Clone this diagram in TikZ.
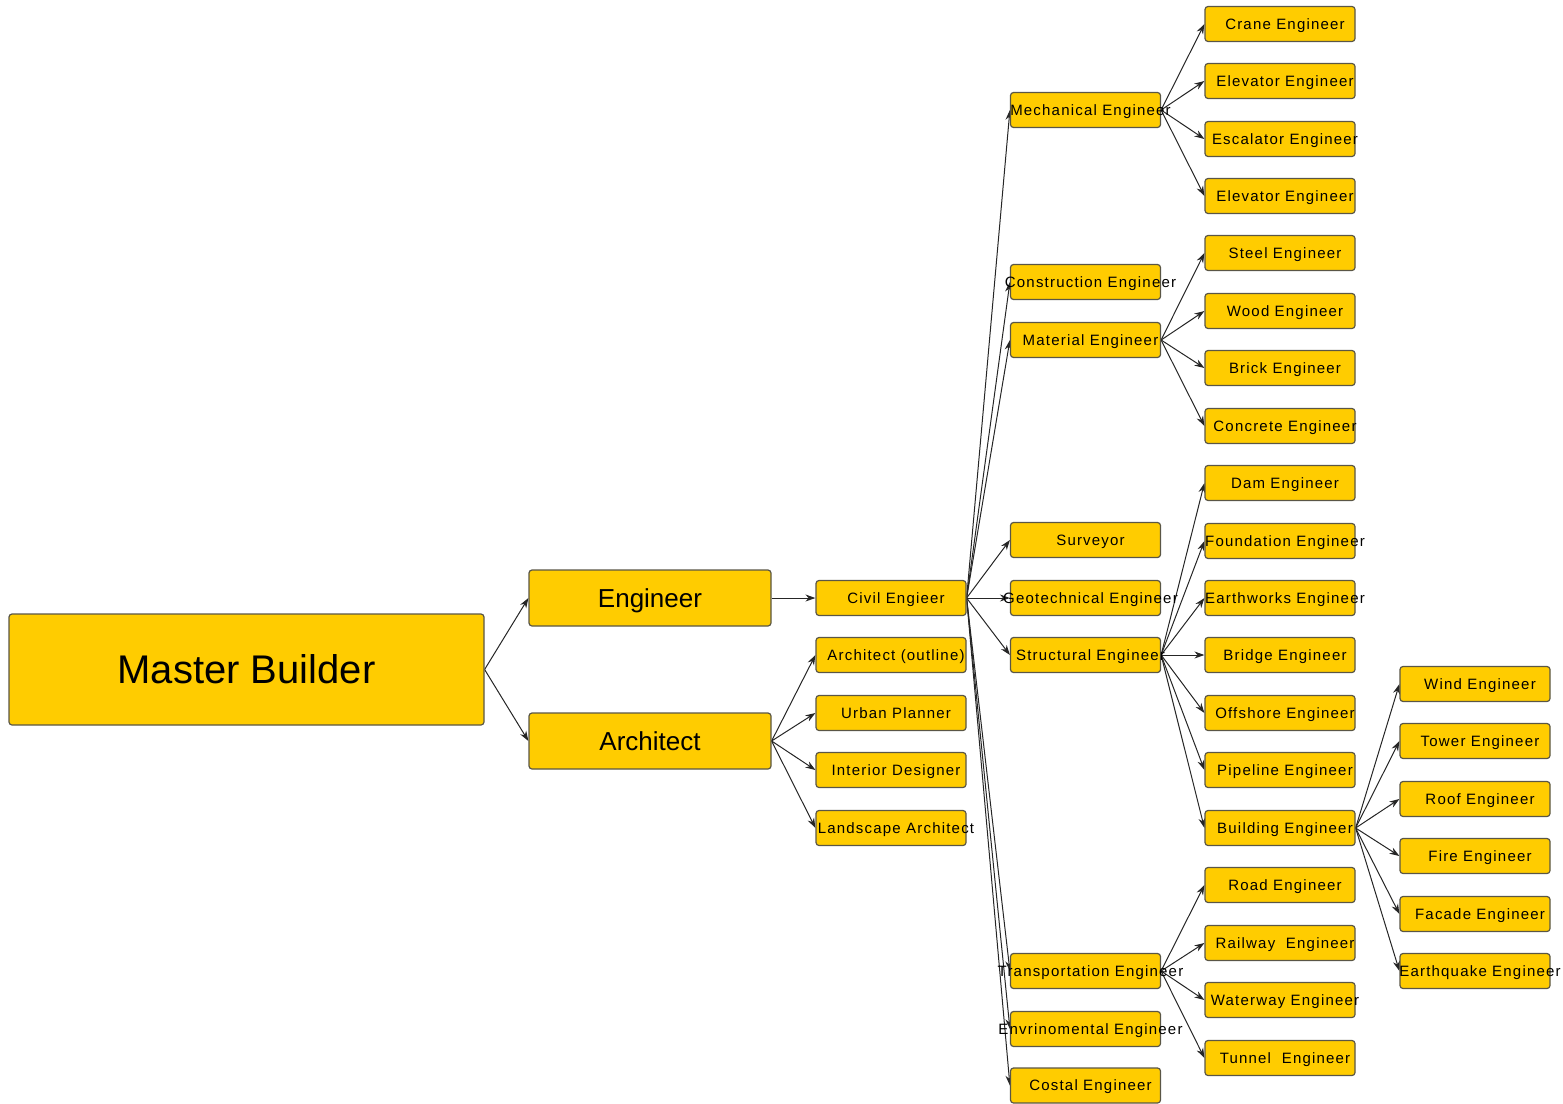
\documentclass[tikz,border=0pt]{standalone}
\usepackage{fontspec}
\setmainfont{Liberation Sans}
\newfontfamily\tracked[LetterSpace=8]{Liberation Sans}
\usetikzlibrary{arrows.meta}
\definecolor{gold}{HTML}{FFCC00}
\definecolor{boxline}{HTML}{5A5646}
\newcommand{\lbl}[1]{\makebox[0pt]{\hspace*{10pt}#1}}
\pgfdeclarelayer{edges}
\pgfsetlayers{edges,main}

\begin{document}
\begin{tikzpicture}[x=1pt,y=-1pt,
  box/.style={draw=boxline, fill=gold, rounded corners=3pt, line width=1.2pt, inner sep=0pt, text=black, text depth=0pt},
  small/.style={box, minimum width=150pt, minimum height=35pt, text height=10.8pt, font=\tracked\fontsize{15}{18}\selectfont},
  mid/.style={box, minimum width=242pt, minimum height=56pt, text height=18.6pt, font=\fontsize{26}{30}\selectfont},
  big/.style={box, minimum width=475pt, minimum height=111pt, text height=28.6pt, font=\fontsize{40}{46}\selectfont},
  arr/.style={draw=black!85, line width=1pt, -{Stealth[length=10pt,width=7pt]}},
]
\useasboundingbox (0,0) rectangle (1563,1103);

% root and first level
\node[big] (mb)  at (246.5,669.5) {Master Builder};
\node[mid] (eng) at (650,598) {Engineer};
\node[mid] (arc) at (650,741) {Architect};

% second level
\node[small] (civil)     at (891,598) {\lbl{Civil Engieer}};
\node[small] (archo)     at (891,655) {\lbl{Architect (outline)}};
\node[small] (urban)     at (891,713) {\lbl{Urban Planner}};
\node[small] (interior)  at (891,770) {\lbl{Interior Designer}};
\node[small] (landscape) at (891,828) {\lbl{Landscape Architect}};

% engineering branches
\node[small] (mech)   at (1085.5,110)  {\lbl{Mechanical Engineer}};
\node[small] (constr) at (1085.5,282)  {\lbl{Construction Engineer}};
\node[small] (mat)    at (1085.5,340)  {\lbl{Material Engineer}};
\node[small] (surv)   at (1085.5,540)  {\lbl{Surveyor}};
\node[small] (geo)    at (1085.5,598)  {\lbl{Geotechnical Engineer}};
\node[small] (struct) at (1085.5,655)  {\lbl{Structural Engineer}};
\node[small] (trans)  at (1085.5,971)  {\lbl{Transportation Engineer}};
\node[small] (env)    at (1085.5,1029) {\lbl{Envrinomental Engineer}};
\node[small] (costal) at (1085.5,1085.5) {\lbl{Costal Engineer}};

% specialities
\node[small] (crane)    at (1280,24)   {\lbl{Crane Engineer}};
\node[small] (elevA)    at (1280,81)   {\lbl{Elevator Engineer}};
\node[small] (esc)      at (1280,139)  {\lbl{Escalator Engineer}};
\node[small] (elevB)    at (1280,196)  {\lbl{Elevator Engineer}};
\node[small] (steel)    at (1280,253)  {\lbl{Steel Engineer}};
\node[small] (wood)     at (1280,311)  {\lbl{Wood Engineer}};
\node[small] (brick)    at (1280,368)  {\lbl{Brick Engineer}};
\node[small] (concrete) at (1280,426)  {\lbl{Concrete Engineer}};
\node[small] (dam)      at (1280,483)  {\lbl{Dam Engineer}};
\node[small] (found)    at (1280,541)  {\lbl{Foundation Engineer}};
\node[small] (earth)    at (1280,598)  {\lbl{Earthworks Engineer}};
\node[small] (bridge)   at (1280,655)  {\lbl{Bridge Engineer}};
\node[small] (off)      at (1280,713)  {\lbl{Offshore Engineer}};
\node[small] (pipe)     at (1280,770)  {\lbl{Pipeline Engineer}};
\node[small] (bldg)     at (1280,828)  {\lbl{Building Engineer}};
\node[small] (road)     at (1280,885)  {\lbl{Road Engineer}};
\node[small] (rail)     at (1280,943)  {\lbl{Railway\ \ Engineer}};
\node[small] (water)    at (1280,1000) {\lbl{Waterway Engineer}};
\node[small] (tunnel)   at (1280,1058) {\lbl{Tunnel\ \ Engineer}};

% building sub-specialities
\node[small] (wind)   at (1475,684) {\lbl{Wind Engineer}};
\node[small] (tower)  at (1475,741) {\lbl{Tower Engineer}};
\node[small] (roof)   at (1475,799) {\lbl{Roof Engineer}};
\node[small] (fire)   at (1475,856) {\lbl{Fire Engineer}};
\node[small] (facade) at (1475,914) {\lbl{Facade Engineer}};
\node[small] (quake)  at (1475,971) {\lbl{Earthquake Engineer}};

% connectors
\begin{pgfonlayer}{edges}
\foreach \c in {eng,arc} \draw[arr] (mb.east) -- (\c.west);
\draw[arr] (eng.east) -- (civil.west);
\foreach \c in {archo,urban,interior,landscape} \draw[arr] (arc.east) -- (\c.west);
\foreach \c in {mech,constr,mat,surv,geo,struct,trans,env,costal} \draw[arr] (civil.east) -- (\c.west);
\foreach \c in {crane,elevA,esc,elevB} \draw[arr] (mech.east) -- (\c.west);
\foreach \c in {steel,wood,brick,concrete} \draw[arr] (mat.east) -- (\c.west);
\foreach \c in {dam,found,earth,bridge,off,pipe,bldg} \draw[arr] (struct.east) -- (\c.west);
\foreach \c in {wind,tower,roof,fire,facade,quake} \draw[arr] (bldg.east) -- (\c.west);
\foreach \c in {road,rail,water,tunnel} \draw[arr] (trans.east) -- (\c.west);
\end{pgfonlayer}
\end{tikzpicture}
\end{document}
